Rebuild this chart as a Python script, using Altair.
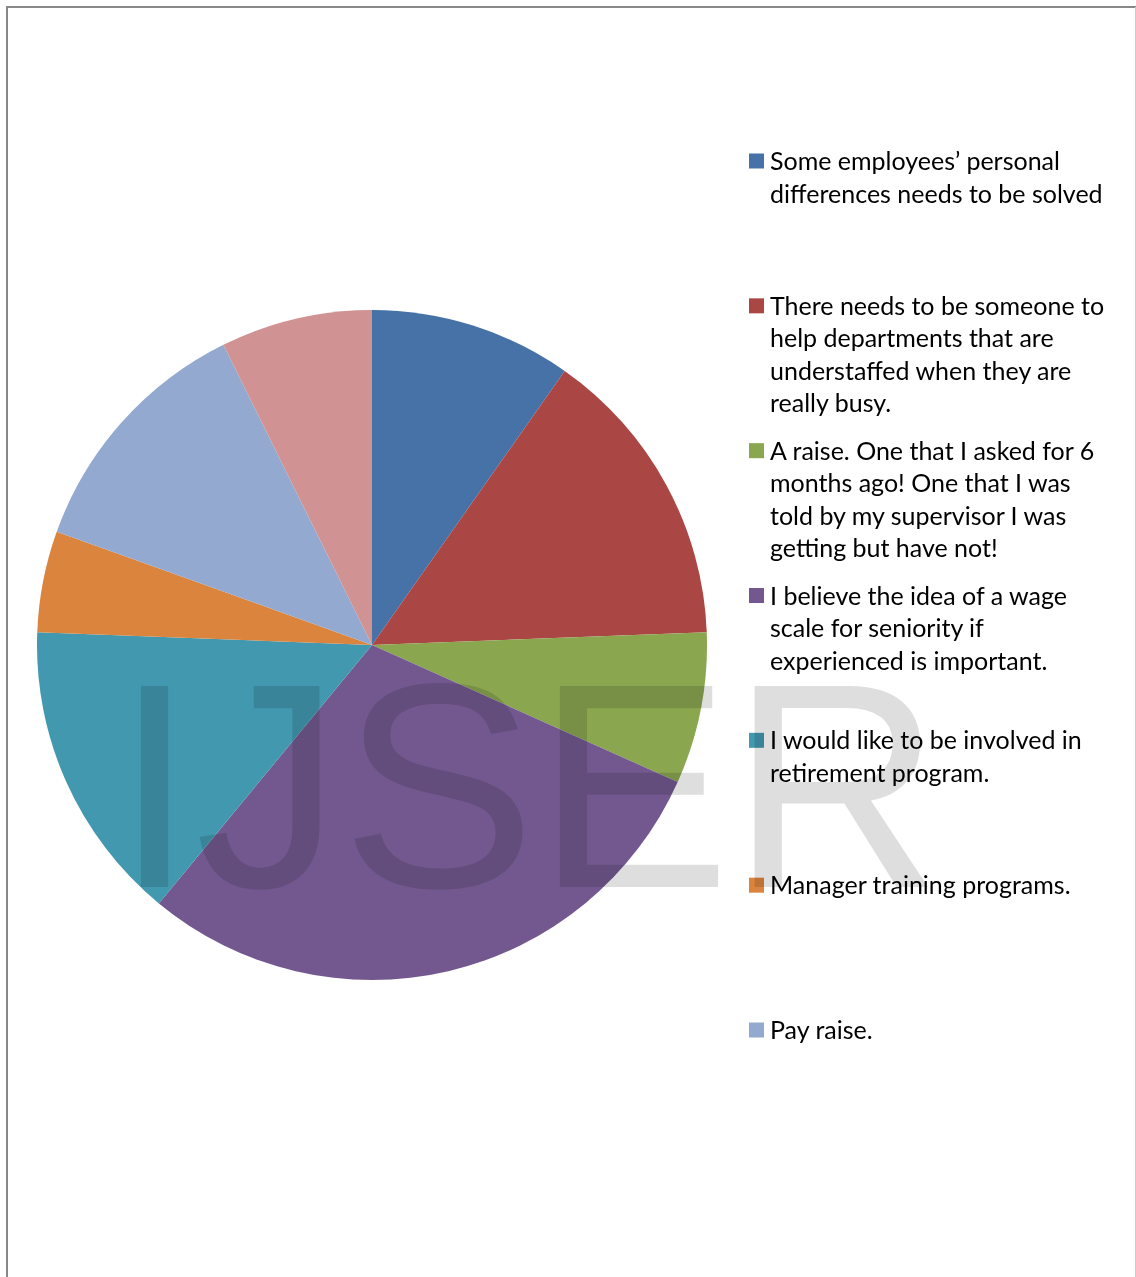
import altair as alt
import pandas as pd

# ---- data ----
categories = [
    "Some employees’ personal differences needs to be solved",
    "There needs to be someone to help departments that are understaffed when they are really busy.",
    " A raise. One that I asked for 6 months ago! One that I was told by my supervisor I was getting but have not!",
    "I believe the idea of a wage scale for seniority if experienced is important.",
    "I would like to be involved in retirement program.",
    "Manager training programs.",
    "Pay raise.",
    "Other",
]
legend_labels = [
    "Some employees’ personal\ndifferences needs to be solved",
    "There needs to be someone to\nhelp departments that are\nunderstaffed when they are\nreally busy.",
    "\u2002A raise. One that I asked for 6\nmonths ago! One that I was\ntold by my supervisor I was\ngetting but have not!",
    "I believe the idea of a wage\nscale for seniority if\nexperienced is important.",
    "I would like to be involved in\nretirement program.",
    "Manager training programs.",
    "Pay raise.",
]
counts = [4, 6, 3, 12, 6, 2, 5, 3]
colors = ["#4672A8", "#AA4644", "#8AA64F", "#72588F", "#4198AF", "#DB843D", "#93A9CF", "#D19293"]
watermark = ["IJSER"]

W, H = 1136, 1277

pie_df = pd.DataFrame({"category": categories, "value": counts, "idx": list(range(len(categories)))})
leg_df = pd.DataFrame({"category": categories[:7], "label": legend_labels, "idx": list(range(7))})
wm_df = pd.DataFrame({"t": watermark})
frame_df = pd.DataFrame({"k": [0]})

color_scale = alt.Scale(domain=categories, range=colors)
leg_y = alt.Y("idx:Q", scale=alt.Scale(domain=[0, 6], range=[161, 1030]), axis=None)

pie = alt.Chart(pie_df).mark_arc(outerRadius=335, stroke=None).encode(
    theta=alt.Theta("value:Q", stack=True),
    color=alt.Color("category:N", scale=color_scale, legend=None),
    order=alt.Order("idx:Q"),
    x=alt.value(372),
    y=alt.value(645),
)

squares = alt.Chart(leg_df).mark_square(size=225, opacity=1, filled=True).encode(
    x=alt.value(756.5),
    y=leg_y,
    color=alt.Color("category:N", scale=color_scale, legend=None),
)

texts = alt.Chart(leg_df).mark_text(
    align="left", baseline="alphabetic", font="Lato", fontSize=25,
    lineHeight=32.5, lineBreak="\n", color="#000000", dy=9,
).encode(
    x=alt.value(770),
    y=leg_y,
    text="label:N",
)

wm = alt.Chart(wm_df).mark_text(
    align="left", baseline="alphabetic", font="Liberation Sans", fontSize=292,
    color="#DEDEDE", blend="multiply",
).encode(
    x=alt.value(114),
    y=alt.value(887),
    text="t:N",
)

left_rule = alt.Chart(frame_df).mark_rule(color="#888888", strokeWidth=2).encode(
    x=alt.value(7), y=alt.value(6), y2=alt.value(H))
top_rule = alt.Chart(frame_df).mark_rule(color="#888888", strokeWidth=2).encode(
    x=alt.value(6), x2=alt.value(W), y=alt.value(7))
right_rule = alt.Chart(frame_df).mark_rule(color="#CCCCCC", strokeWidth=1).encode(
    x=alt.value(1135.5), y=alt.value(7), y2=alt.value(H))

chart = alt.layer(pie, squares, texts, wm, left_rule, top_rule, right_rule).properties(
    width=W, height=H,
    autosize=alt.AutoSizeParams(type="none"),
    padding=0,
    background="white",
).configure_view(stroke=None)

chart.save("out.html", embed_options={"renderer": "svg", "actions": False})
